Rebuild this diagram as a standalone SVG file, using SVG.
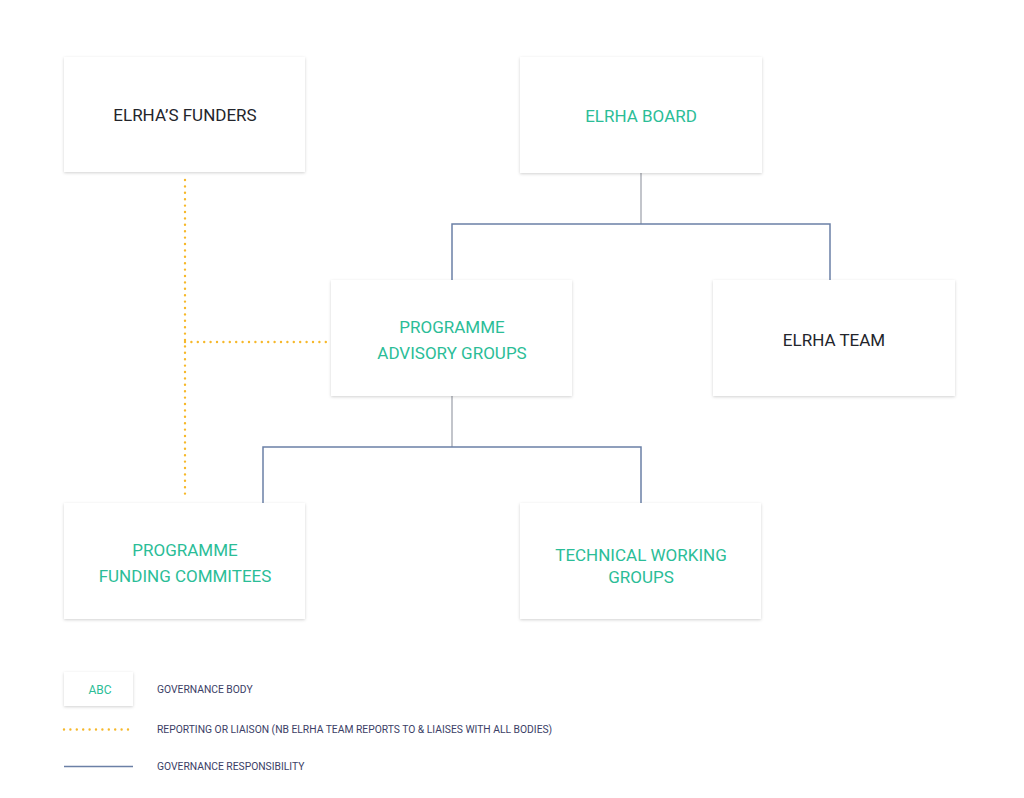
<svg xmlns="http://www.w3.org/2000/svg" width="1024" height="798" viewBox="0 0 1024 798">
<defs>
<filter id="sh" x="-10%" y="-10%" width="120%" height="130%">
<feDropShadow dx="0" dy="1" stdDeviation="1.6" flood-color="#000" flood-opacity="0.18"/>
</filter>
<style>
.box{fill:#fff;filter:url(#sh)}
.t{font-family:Roboto,"Liberation Sans",sans-serif;font-size:17px;text-anchor:middle}
.teal{fill:#2bbd97}
.dark{fill:#23252b}
.gov{fill:none;stroke:#6b80a6;stroke-width:1.5}
.stub{fill:none;stroke:#9a9ea8;stroke-width:1.2}
.dot{fill:none;stroke:#f6b82a;stroke-width:2.4;stroke-dasharray:0 6.4;stroke-linecap:round}
.leg{font-family:Roboto,"Liberation Sans",sans-serif;font-size:10.3px;fill:#3b3e66}
</style>
</defs>
<rect width="1024" height="798" fill="#fff"/>
<g id="connectors">
<path class="stub" d="M641,173 V224"/>
<path class="gov" d="M452,280 V224 H830 V280"/>
<path class="stub" d="M452,396 V447"/>
<path class="gov" d="M263,503 V447 H641 V503"/>
<path class="dot" d="M185,180 V500"/>
<path class="dot" d="M185,342 H328"/>
</g>
<g id="funders"><rect class="box" x="64" y="57" width="241" height="115"/><text class="t dark" x="185" y="121">ELRHA’S FUNDERS</text></g>
<g id="board"><rect class="box" x="520" y="57" width="242" height="116"/><text class="t teal" x="641" y="122">ELRHA BOARD</text></g>
<g id="advisory"><rect class="box" x="331" y="280" width="241" height="116"/><text class="t teal" x="452" y="333">PROGRAMME</text><text class="t teal" x="452" y="359">ADVISORY GROUPS</text></g>
<g id="team"><rect class="box" x="713" y="280" width="242" height="116"/><text class="t dark" x="834" y="346">ELRHA TEAM</text></g>
<g id="funding"><rect class="box" x="64" y="503" width="241" height="116"/><text class="t teal" x="185" y="556">PROGRAMME</text><text class="t teal" x="185" y="582">FUNDING COMMITEES</text></g>
<g id="technical"><rect class="box" x="520" y="503" width="241" height="116"/><text class="t teal" x="641" y="561">TECHNICAL WORKING</text><text class="t teal" x="641" y="583">GROUPS</text></g>
<g id="legend">
<rect class="box" x="64" y="672" width="69" height="34"/>
<text class="teal" x="100" y="694" text-anchor="middle" font-family="Roboto,'Liberation Sans',sans-serif" font-size="12">ABC</text>
<text class="leg" x="157" y="693">GOVERNANCE BODY</text>
<path class="dot" d="M64,729.5 H133" stroke-width="2"/>
<text class="leg" x="157" y="733">REPORTING OR LIAISON (NB ELRHA TEAM REPORTS TO &amp; LIAISES WITH ALL BODIES)</text>
<path class="gov" d="M64,766.5 H133"/>
<text class="leg" x="157" y="770">GOVERNANCE RESPONSIBILITY</text>
</g>
</svg>
